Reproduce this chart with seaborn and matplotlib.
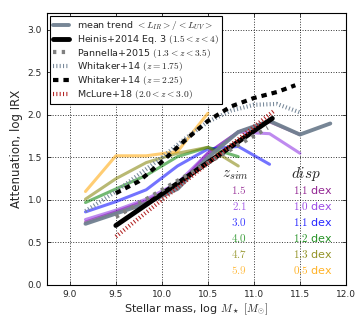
import matplotlib
matplotlib.use("Agg")
import matplotlib.pyplot as plt
import seaborn as sns

# simulation mass bins
mass_sim = [9.17, 9.5, 9.83, 10.17, 10.5, 10.83, 11.17, 11.5, 11.83]
irx_mean = [0.72, 0.84, 0.96, 1.13, 1.50, 1.80, 1.93, 1.77, 1.90]

z_labels = ["1.5", "2.1", "3.0", "4.0", "4.7", "5.9"]
disp_labels = ["1.1", "1.0", "1.1", "1.2", "1.3", "0.5"]
z_colors = ["purple", "blueviolet", "blue", "green", "olive", "orange"]
irx_z = [
    [0.74, 0.86, 0.99, 1.16, 1.55, 1.80, 1.92, 1.77],
    [0.77, 0.88, 1.01, 1.20, 1.55, 1.80, 1.78, 1.55],
    [0.86, 0.98, 1.12, 1.40, 1.60, 1.63, 1.42],
    [0.97, 1.13, 1.29, 1.51, 1.62, 1.51],
    [1.01, 1.25, 1.44, 1.55, 1.62, 1.40],
    [1.10, 1.52, 1.52, 1.57, 2.02],
]

# literature relations
heinis_m = [9.5, 11.2]
heinis_irx = [0.70, 1.96]
pannella_m = [9.5, 11.15]
pannella_irx = [0.80, 1.85]
wh175_m = [9.17, 9.5, 9.75, 10.0, 10.25, 10.5, 10.75, 11.0, 11.25, 11.5]
wh175_irx = [0.87, 1.10, 1.30, 1.50, 1.72, 1.92, 2.05, 2.12, 2.13, 2.03]
wh225_m = [9.5, 9.75, 10.0, 10.25, 10.5, 10.75, 11.0, 11.25, 11.45]
wh225_irx = [1.08, 1.22, 1.45, 1.70, 1.93, 2.10, 2.20, 2.27, 2.35]
mclure_m = [9.5, 11.22]
mclure_irx = [0.57, 2.05]

sns.set_style("ticks")
plt.rcParams["font.family"] = ["DejaVu Sans"]
plt.rcParams["mathtext.fontset"] = "cm"

fig = plt.figure(figsize=(3.63, 3.17), dpi=100)
ax = fig.add_axes([0.129, 0.101, 0.824, 0.858])

for irx, col in zip(irx_z, z_colors):
    sns.lineplot(x=mass_sim[:len(irx)], y=irx, ax=ax, color=col, lw=2.2, alpha=0.55)

sns.lineplot(x=mass_sim, y=irx_mean, ax=ax, color="slategray", lw=2.8, alpha=0.95,
             label=r"mean trend $<L_{IR}>/<L_{UV}>$")
sns.lineplot(x=heinis_m, y=heinis_irx, ax=ax, color="black", lw=3.5,
             label=r"Heinis+2014 Eq. 3 $(1.5<z<4)$")
sns.lineplot(x=pannella_m, y=pannella_irx, ax=ax, color="gray", lw=3,
             label=r"Pannella+2015 $(1.3<z<3.5)$")
ax.lines[-1].set_dashes([0.8, 1.3])
sns.lineplot(x=wh175_m, y=wh175_irx, ax=ax, color="lightslategray", lw=3,
             label=r"Whitaker+14 $(z=1.75)$")
ax.lines[-1].set_dashes([0.25, 0.55])
sns.lineplot(x=wh225_m, y=wh225_irx, ax=ax, color="black", lw=3,
             label=r"Whitaker+14 $(z=2.25)$")
ax.lines[-1].set_dashes([1.3, 1.2])
sns.lineplot(x=mclure_m, y=mclure_irx, ax=ax, color="firebrick", lw=3,
             label=r"McLure+18 $(2.0<z<3.0)$")
ax.lines[-1].set_dashes([0.25, 0.55])

ax.text(10.80, 1.30, r"$z_{sim}$", ha="center", va="center", fontsize=11)
ax.text(11.57, 1.30, r"$disp$", ha="center", va="center", fontsize=11)
for i, (zl, dl, col) in enumerate(zip(z_labels, disp_labels, z_colors)):
    y = 1.12 - 0.188 * i
    ax.text(10.84, y, f"${zl}$", ha="center", va="center", fontsize=8, color=col, alpha=0.75)
    ax.text(11.64, y, f"${dl}$ dex", ha="center", va="center", fontsize=8, color=col, alpha=0.85)

ax.set_xlim(8.75, 12.0)
ax.set_ylim(0, 3.2)
ax.set_xticks([9.0, 9.5, 10.0, 10.5, 11.0, 11.5, 12.0])
ax.set_yticks([0.0, 0.5, 1.0, 1.5, 2.0, 2.5, 3.0])
ax.tick_params(direction="in", top=True, right=True, labelsize=6.5, length=3, width=0.6)
ax.xaxis.set_major_formatter(matplotlib.ticker.FormatStrFormatter("%.1f"))
ax.yaxis.set_major_formatter(matplotlib.ticker.FormatStrFormatter("%.1f"))
ax.grid(True, ls=":", color="k", lw=0.7, alpha=0.8)
for s in ax.spines.values():
    s.set_linewidth(0.8)
    s.set_color("black")

ax.set_xlabel(r"Stellar mass, log $M_\star$ $[M_{\odot}]$", fontsize=8, labelpad=2)
ax.set_ylabel("Attenuation, log IRX", fontsize=8.5, labelpad=3)

leg = ax.legend(loc="upper left", fontsize=6.8, frameon=True, fancybox=False,
                framealpha=1, edgecolor="black", handlelength=1.7,
                borderaxespad=0.3, labelspacing=0.08, borderpad=0.35)
leg.get_frame().set_linewidth(0.8)

fig.savefig("out.png", dpi=100)
